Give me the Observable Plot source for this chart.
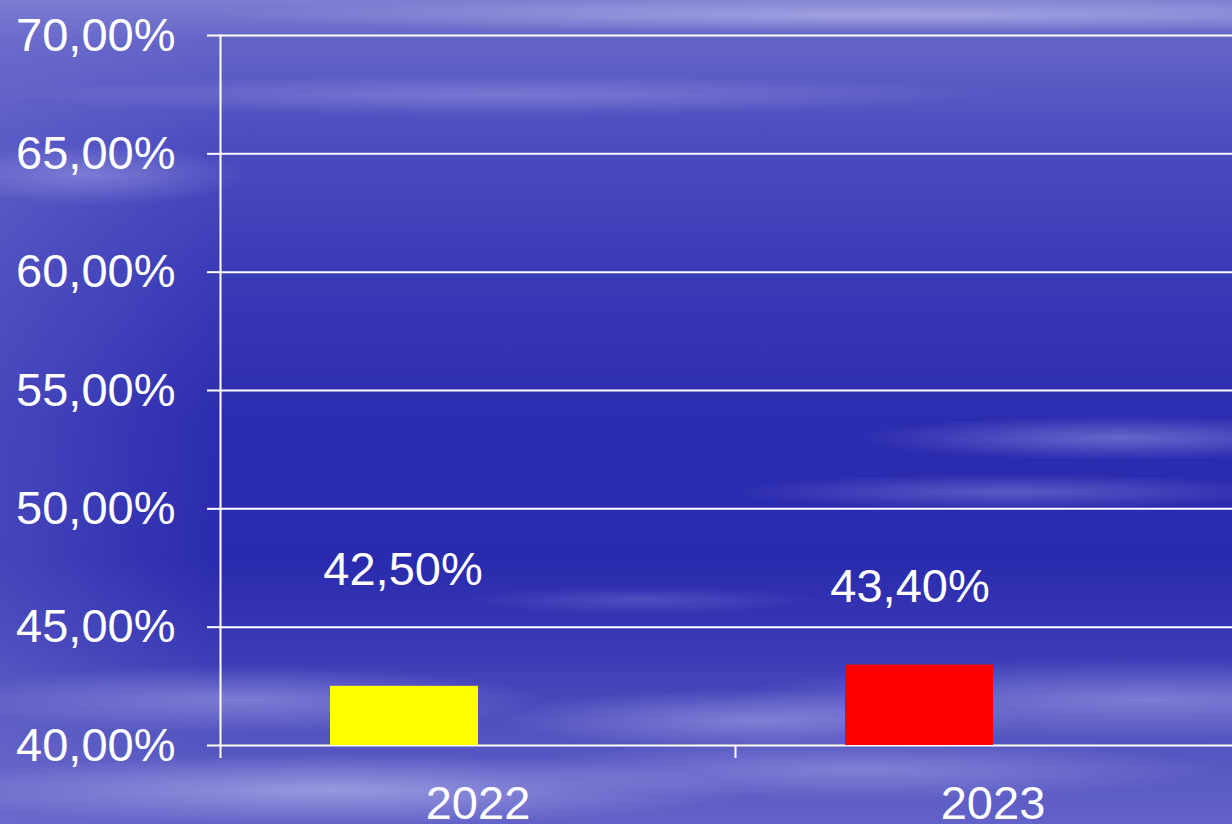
<!DOCTYPE html>
<html>
<head>
<meta charset="utf-8">
<script src="https://cdn.jsdelivr.net/npm/d3@7"></script>
<script src="https://cdn.jsdelivr.net/npm/@observablehq/plot@0.6"></script>
<style>
  html, body { margin: 0; padding: 0; }
  #wrap {
    width: 1232px; height: 824px; overflow: hidden; position: relative;
    background:
      radial-gradient(ellipse 260px 22px at 1120px 438px, rgba(210,210,255,0.35), transparent),
      radial-gradient(ellipse 280px 18px at 1010px 492px, rgba(210,210,255,0.28), transparent),
      radial-gradient(ellipse 180px 14px at 640px 600px, rgba(210,210,255,0.18), transparent),
      radial-gradient(ellipse 300px 34px at 240px 700px, rgba(220,220,255,0.35), transparent),
      radial-gradient(ellipse 260px 30px at 760px 720px, rgba(220,220,255,0.35), transparent),
      radial-gradient(ellipse 420px 40px at 1150px 700px, rgba(220,220,255,0.35), transparent),
      radial-gradient(ellipse 420px 36px at 330px 790px, rgba(225,225,255,0.45), transparent),
      radial-gradient(ellipse 360px 30px at 860px 770px, rgba(220,220,255,0.3), transparent),
      radial-gradient(ellipse 160px 30px at 90px 175px, rgba(220,220,255,0.3), transparent),
      radial-gradient(ellipse 500px 20px at 500px 95px, rgba(220,220,255,0.25), transparent),
      radial-gradient(ellipse 700px 18px at 900px 15px, rgba(230,230,255,0.4), transparent),
      linear-gradient(to right, rgba(120,120,210,0.35) 0px, rgba(120,120,210,0.0) 220px),
      linear-gradient(to bottom, #7e7ed2 0px, #6464c8 40px, #4c4cc0 140px, #3c3cb8 260px, #2c2cb0 420px, #2a2aae 560px, #3a3ab6 650px, #5252c0 730px, #6262c8 824px);
  }
  #wrap svg { position: absolute; left: 0; top: 0; }
</style>
</head>
<body>
<div id="wrap"></div>
<script>
const years = ["2022", "2023"];
const values = [42.5, 43.4];
const barColors = ["#ffff00", "#ff0000"];
const labels = ["42,50%", "43,40%"];
const yTicks = [40, 45, 50, 55, 60, 65, 70];

const data = years.map((y, i) => ({year: y, value: values[i], label: labels[i]}));
const yMin = yTicks[0];
const xRange = [220, 1250];
const bw = (xRange[1] - xRange[0]) / years.length;
const fmt = d => d.toFixed(2).replace(".", ",") + "%";

const chart = Plot.plot({
  width: 1232,
  height: 824,
  marginLeft: 220,
  marginRight: 0,
  marginTop: 35,
  marginBottom: 79,
  style: {background: "transparent", color: "white", fontFamily: "'Liberation Sans', Arial, sans-serif", fontSize: "47px"},
  x: {domain: years, range: xRange, padding: 0, label: null},
  y: {domain: [yTicks[0], yTicks[yTicks.length - 1]], label: null},
  color: {domain: years, range: barColors},
  marks: [
    Plot.gridY(yTicks, {stroke: "white", strokeOpacity: 1, strokeWidth: 2}),
    Plot.frame({anchor: "left", stroke: "white", strokeWidth: 2}),
    Plot.barY(data, {x: "year", y1: yMin, y2: "value", fill: "year", insetLeft: bw * 110 / 515, insetRight: bw * 257 / 515}),
    Plot.axisY({ticks: yTicks, tickSize: 13, tickPadding: 32, tickFormat: fmt, stroke: "white", strokeWidth: 2, fill: "white", label: null}),
    Plot.axisX({tickSize: 13, tickFormat: () => "", dx: -bw / 2, stroke: "white", strokeWidth: 2, label: null}),
    Plot.axisX({tickSize: 0, tickPadding: 40, fill: "white", label: null}),
    Plot.text(data.filter(d => d.year === years[0]), {x: "year", y: "value", text: "label", dx: -75, dy: -116, fill: "white"}),
    Plot.text(data.filter(d => d.year === years[1]), {x: "year", y: "value", text: "label", dx: -83, dy: -78, fill: "white"})
  ]
});
document.getElementById("wrap").appendChild(chart);
</script>
</body>
</html>
